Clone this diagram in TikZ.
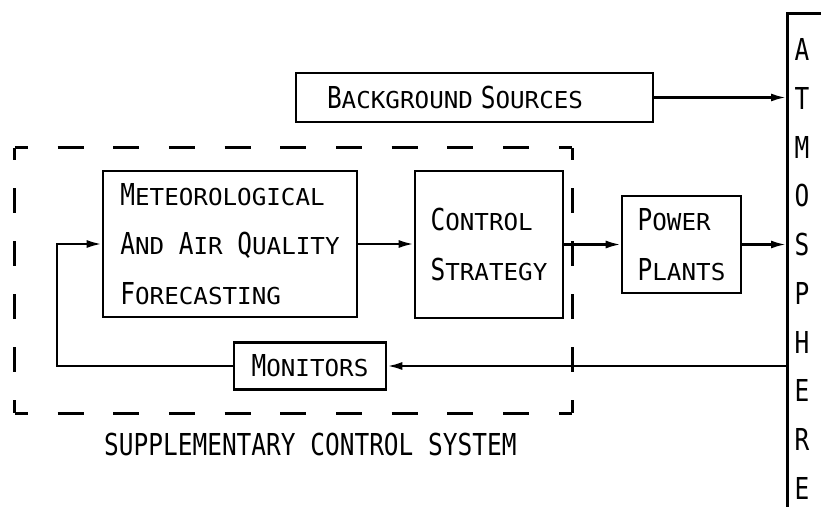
\documentclass[tikz,border=0pt]{standalone}
\usepackage{fontspec}
\usetikzlibrary{arrows.meta}
\newfontfamily\lbig[FakeStretch=0.81]{DejaVu Sans Mono}
\newfontfamily\lsm[FakeStretch=1.04]{DejaVu Sans Mono}
\newcommand{\bigletterfont}{\lbig\fontsize{30.2}{49.5}\selectfont}
\newcommand{\smallletterfont}{\lsm\fontsize{23.3}{49.5}\selectfont}
\newcommand{\Cap}[1]{{\bigletterfont #1}}
\begin{document}
\begin{tikzpicture}[x=1pt,y=-1pt,
  box/.style={draw, line width=2.6pt, inner sep=0pt, align=left, font=\smallletterfont},
  conn/.style={line width=2.4pt, -{Latex[length=15pt,width=8pt]}},
  hside/.style={line width=3pt, dash pattern=on 26pt off 29.7pt, dash phase=13pt},
  vside/.style={line width=3pt, dash pattern=on 25pt off 28pt, dash phase=12.5pt}]
\useasboundingbox (0,0) rectangle (821,506);
\clip (0,0) rectangle (821,506);

% dashed system boundary
\node[inner sep=0pt, minimum width=557pt, minimum height=265pt] (scs) at (293.5,280.5) {};
\draw[hside] (scs.north west) -- (scs.north east);
\draw[hside] (scs.south west) -- (scs.south east);
\draw[vside] (scs.north west) -- (scs.south west);
\draw[vside] (scs.north east) -- (scs.south east);
\node[anchor=west, inner sep=0pt, font=\bigletterfont] (scslbl) at (104,444) {SUPPLEMENTARY CONTROL SYSTEM};

% boxes
\node[box, minimum width=357pt, minimum height=49pt, text width=295pt, inner xsep=31pt] (bg) at (474.5,97.5) {\Cap{B}ACKGROUND \Cap{S}OURCES};
\node[box, minimum width=254pt, minimum height=146pt] (met) at (230,244) {\Cap{M}ETEOROLOGICAL\\\Cap{A}ND \Cap{A}IR \Cap{Q}UALITY\\\Cap{F}ORECASTING};
\node[box, minimum width=148pt, minimum height=147pt] (cs) at (489,244.5) {\Cap{C}ONTROL\\\Cap{S}TRATEGY};
\node[box, minimum width=119pt, minimum height=97pt] (pp) at (681.5,244.5) {\Cap{P}OWER\\\Cap{P}LANTS};
\node[box, minimum width=152pt, minimum height=47pt] (mon) at (310,366) {\Cap{M}ONITORS};

% atmosphere
\node[draw, line width=2.6pt, anchor=north west, minimum width=60pt, minimum height=560pt, inner sep=0pt] (atm) at (786,12) {};
\node[align=center, inner sep=0pt, font=\lbig\fontsize{30.2}{48.7}\selectfont] (atmtext) at (802,269) {A\\T\\M\\O\\S\\P\\H\\E\\R\\E};

% connectors
\draw[conn] (bg.east) -- (bg.east -| atm.west);
\draw[conn] (met.east) -- (met.east -| cs.west);
\draw[conn] (cs.east) -- (pp.west);
\draw[conn] (pp.east) -- (pp.east -| atm.west);
\draw[conn] (atm.west |- mon.east) -- (mon.east);
\coordinate (fb) at (57,366);
\draw[conn] (mon.west) -- (fb) |- (met.west);
\end{tikzpicture}
\end{document}
